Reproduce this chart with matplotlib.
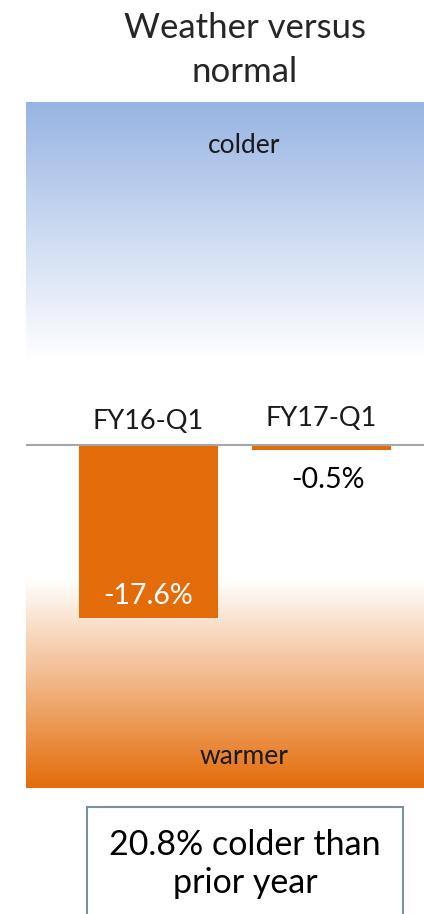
import numpy as np
import matplotlib
matplotlib.use("Agg")
import matplotlib.pyplot as plt
from matplotlib.patches import Rectangle

# data
categories = ["FY16-Q1", "FY17-Q1"]
values = [-17.6, -0.5]
value_labels = ["-17.6%", "-0.5%"]
title = "Weather versus\nnormal"
note = "20.8% colder than\nprior year"

W, H = 424, 914
plt.rcParams["font.family"] = ["Lato", "DejaVu Sans"]
fig = plt.figure(figsize=(W / 100, H / 100), dpi=100)
fig.patch.set_facecolor("white")

# axes covers the gradient panel (px 26..424 x, 102..788 y)
ax = fig.add_axes([26 / W, (H - 788) / H, 398 / W, 686 / H])
YL = 34.9
XL = (-0.708, 1.592)
ax.axis("off")

# gradients
blue = np.array([152, 180, 227]) / 255
orange = np.array([228, 108, 10]) / 255
t = np.linspace(0, 1, 256)[:, None, None]  # 0 at top of extent
blue_img = np.repeat((1 - t) * blue + t * np.ones(3), 2, axis=1)
ax.imshow(blue_img, extent=[XL[0], XL[1], 8.6, YL], aspect="auto", zorder=0, interpolation="bilinear")
orange_img = np.repeat((1 - t) * np.ones(3) + t * orange, 2, axis=1)
ax.imshow(orange_img, extent=[XL[0], XL[1], -YL, -13.7], aspect="auto", zorder=0, interpolation="bilinear")
ax.set_xlim(*XL)
ax.set_ylim(-YL, YL)

x = np.arange(len(categories))
ax.bar(x, values, width=0.803, color="#e36c0a", zorder=2)
ax.axhline(0, color="#a6a6a6", lw=1.5, zorder=3)

ax.text(x[0], 2.4, categories[0], ha="center", va="center", fontsize=19.5, color="#1a1a1a")
ax.text(x[1], 2.7, categories[1], ha="center", va="center", fontsize=19.5, color="#1a1a1a")
ax.text(x[0], -15.4, value_labels[0], ha="center", va="center", fontsize=20.5, color="white")
ax.text(x[1] + 0.04, -3.6, value_labels[1], ha="center", va="center", fontsize=20.5, color="black")
ax.text(0.55, 30.5, "colder", ha="center", va="center", fontsize=19, color="#1a1a1a")
ax.text(0.55, -31.7, "warmer", ha="center", va="center", fontsize=19, color="#1a1a1a")

fig.text(245 / W, 1 - 50 / H, title, ha="center", va="center", fontsize=25,
         linespacing=1.45, color="#262626")

fig.patches.append(Rectangle((87 / W, -0.05), 316 / W, (H - 807) / H + 0.05,
                             transform=fig.transFigure, fill=False,
                             edgecolor="#7a919e", lw=1.5))
fig.text(245 / W, 1 - 864 / H, note, ha="center", va="center", fontsize=24.5,
         linespacing=1.25, color="black")

fig.savefig("out.png", dpi=100)
